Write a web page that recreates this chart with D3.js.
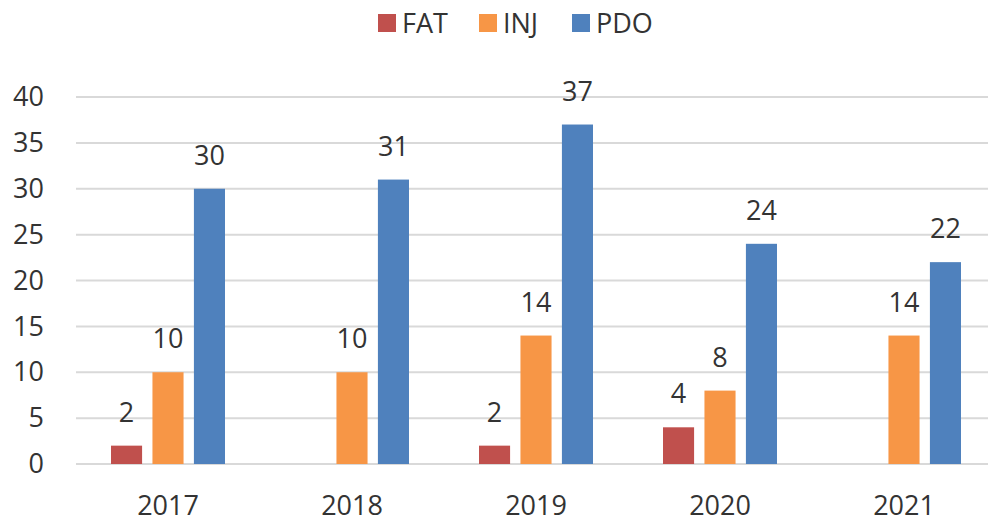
<!DOCTYPE html>
<html>
<head>
<meta charset="utf-8">
<script src="https://cdn.jsdelivr.net/npm/d3@7"></script>
<style>
  body { margin: 0; background: #fff; }
  text { font-family: "Open Sans", "DejaVu Sans", sans-serif; fill: #333; }
  .grid line { stroke: #d9d9d9; stroke-width: 2; }
</style>
</head>
<body>
<div id="chart"></div>
<script>
// data
var years = ["2017", "2018", "2019", "2020", "2021"];
var seriesNames = ["FAT", "INJ", "PDO"];
var fatValues = [2, null, 2, 4, null];
var injValues = [10, 10, 14, 8, 14];
var pdoValues = [30, 31, 37, 24, 22];
var yTicks = [0, 5, 10, 15, 20, 25, 30, 35, 40];
var colors = { FAT: "#c0504d", INJ: "#f79646", PDO: "#4f81bd" };

var width = 988, height = 525;
var margin = { top: 97, right: -8, bottom: 61, left: 76 };
var w = width - margin.left - margin.right,
    h = height - margin.top - margin.bottom;

var svg = d3.select("#chart").append("svg")
    .attr("width", width)
    .attr("height", height);

var g = svg.append("g")
    .attr("transform", "translate(" + margin.left + "," + margin.top + ")");

var x0 = d3.scaleBand().domain(years).range([0, w]);
var x1 = d3.scaleBand().domain(seriesNames)
    .range([35, x0.bandwidth() - 35])
    .paddingInner(0.25);
var y = d3.scaleLinear().domain([0, 40]).range([h, 0]);

// gridlines
g.append("g").attr("class", "grid")
    .selectAll("line")
    .data(yTicks)
    .enter().append("line")
    .attr("x1", 0).attr("x2", width)
    .attr("y1", d => y(d)).attr("y2", d => y(d));

// y axis labels
var yAxis = d3.axisLeft(y).tickValues(yTicks).tickSize(0).tickPadding(32);
g.append("g").call(yAxis)
    .call(a => a.select(".domain").remove())
    .selectAll("text")
    .style("font-size", "27px")
    .attr("fill", "#333");

// x axis labels
var xAxis = d3.axisBottom(x0).tickSize(0).tickPadding(32);
g.append("g").attr("transform", "translate(0," + h + ")").call(xAxis)
    .call(a => a.select(".domain").remove())
    .selectAll("text")
    .style("font-size", "27px")
    .attr("fill", "#333");

var rows = [];
years.forEach(function(yr, i) {
    rows.push({ year: yr, key: "FAT", value: fatValues[i] });
    rows.push({ year: yr, key: "INJ", value: injValues[i] });
    rows.push({ year: yr, key: "PDO", value: pdoValues[i] });
});
var shown = rows.filter(d => d.value != null);

g.selectAll(".bar")
    .data(shown)
    .enter().append("rect")
    .attr("class", "bar")
    .attr("x", d => x0(d.year) + x1(d.key))
    .attr("width", x1.bandwidth())
    .attr("y", d => y(d.value))
    .attr("height", d => h - y(d.value))
    .attr("fill", d => colors[d.key]);

g.selectAll(".val")
    .data(shown)
    .enter().append("text")
    .attr("class", "val")
    .attr("x", d => x0(d.year) + x1(d.key) + x1.bandwidth() / 2)
    .attr("y", d => y(d.value) - 24)
    .attr("text-anchor", "middle")
    .style("font-size", "27px")
    .text(d => d.value);

// legend
var legendX = [378, 479, 572];
var legend = svg.append("g");
seriesNames.forEach(function(name, i) {
    legend.append("rect")
        .attr("x", legendX[i]).attr("y", 14)
        .attr("width", 18).attr("height", 18)
        .attr("fill", colors[name]);
    legend.append("text")
        .attr("x", legendX[i] + 24).attr("y", 33)
        .style("font-size", "27px")
        .text(name);
});
</script>
</body>
</html>
